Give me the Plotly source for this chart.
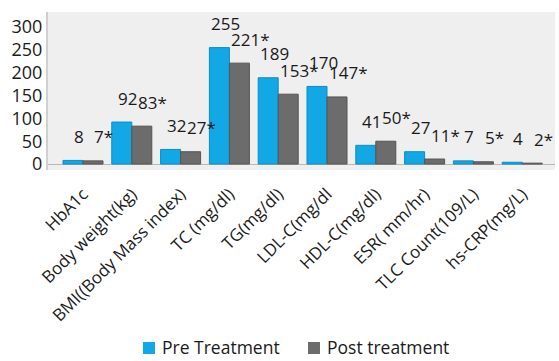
import plotly.graph_objects as go

categories = ["HbA1c", "Body weight(kg)", "BMI((Body Mass index)", "TC (mg/dl)",
              "TG(mg/dl)", "LDL-C(mg/dl", "HDL-C(mg/dl)", "ESR( mm/hr)",
              "TLC Count(109/L)", "hs-CRP(mg/L)"]
pre_values = [8, 92, 32, 255, 189, 170, 41, 27, 7, 4]
post_values = [7, 83, 27, 221, 153, 147, 50, 11, 5, 2]
pre_labels = ["8", "92", "32", "255", "189", "170", "41", "27", "7", "4"]
post_labels = ["7*", "83*", "27*", "221*", "153*", "147*", "50*", "11*", "5*", "2*"]
y_ticks = [0, 50, 100, 150, 200, 250, 300]
series_names = ["Pre Treatment", "Post treatment"]

FONT = "Open Sans, Noto Sans, sans-serif"
BLUE = "#12a8e6"
GRAY = "#6c6c6c"

# plot area geometry (px)
L, R, T, B = 48, 555, 12, 170
W, H = R - L, B - T


def px_x(p):
    return (p - L) / W


def px_y(p):
    return (B - p) / H


fig = go.Figure()
fig.add_trace(go.Bar(x=categories, y=pre_values, name=series_names[0],
                     marker=dict(color=BLUE, line=dict(color="#0d8cc4", width=1))))
fig.add_trace(go.Bar(x=categories, y=post_values, name=series_names[1],
                     marker=dict(color=GRAY, line=dict(color="#555555", width=1))))

annotations = []
for c, v, t in zip(categories, pre_values, pre_labels):
    annotations.append(dict(x=c, y=v, text=t, showarrow=False, xref="x", yref="y",
                            xshift=-4, yshift=24, yanchor="middle", xanchor="center",
                            font=dict(family=FONT, size=17, color="#1a1a1a")))
for c, v, t in zip(categories, post_values, post_labels):
    annotations.append(dict(x=c, y=v, text=t, showarrow=False, xref="x", yref="y",
                            xshift=21, yshift=24, yanchor="middle", xanchor="center",
                            font=dict(family=FONT, size=17, color="#1a1a1a")))

# manual legend
shapes = []
legend_items = [(series_names[0], BLUE, 143, 160), (series_names[1], GRAY, 308, 325)]
for name, col, sq_x, txt_x in legend_items:
    shapes.append(dict(type="rect", xref="paper", yref="paper",
                       x0=px_x(sq_x), x1=px_x(sq_x + 12), y0=px_y(354), y1=px_y(342),
                       fillcolor=col, line=dict(width=0)))
    annotations.append(dict(x=px_x(txt_x), y=px_y(347), xref="paper", yref="paper",
                            text=name, showarrow=False, xanchor="left", yanchor="middle",
                            font=dict(family=FONT, size=17.5, color="#1a1a1a")))

fig.update_layout(
    width=559, height=361,
    margin=dict(l=L, r=559 - R, t=T, b=361 - B),
    paper_bgcolor="white",
    plot_bgcolor="#efefef",
    barmode="group",
    bargap=0.18,
    bargroupgap=0.0,
    font=dict(family=FONT, size=15, color="#1a1a1a"),
    annotations=annotations,
    shapes=shapes,
    showlegend=False,
)
fig.update_xaxes(range=[-0.717, 9.672], tickangle=-45, showgrid=False,
                 showline=False, ticks="", ticklabelstandoff=10,
                 tickfont=dict(family=FONT, size=17))
fig.update_yaxes(range=[-13, 333], tickvals=y_ticks, showgrid=False,
                 zeroline=True, zerolinecolor="#b8b8b8", zerolinewidth=1,
                 showline=True, linecolor="#d0d0d0", linewidth=2,
                 ticks="", tickfont=dict(family=FONT, size=18))

fig.write_html("out.html")
